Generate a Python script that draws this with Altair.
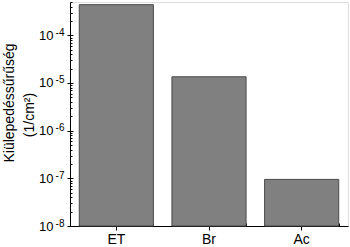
import altair as alt
import pandas as pd

categories = ["ET", "Br", "Ac"]
values = [4.4e-4, 1.35e-5, 9.5e-8]
major_ticks = [1e-8, 1e-7, 1e-6, 1e-5, 1e-4]
minor_ticks = [m * 10 ** e for e in range(-8, -3) for m in range(2, 10)] + [2e-4, 3e-4, 4e-4, 5e-4]
title_lines = ["Kiülepedéssűrűség", "(1/cm²)"]

df = pd.DataFrame({"cat": categories, "val": values})

W, H = 278, 224
FONT = "Liberation Sans"

yscale = alt.Scale(type="log", domain=[1e-8, 5e-4], nice=False)
xscale = alt.Scale(paddingInner=0.2, paddingOuter=0.1)

bars = alt.Chart(df).mark_bar(color="#808080", stroke="#4a4a4a", strokeWidth=1).encode(
    x=alt.X("cat:N", sort=categories, scale=xscale,
            axis=alt.Axis(orient="bottom", title=None, labelAngle=0, labelFont=FONT, labelFontSize=14,
                          labelColor="black", tickColor="black", domainColor="black",
                          tickSize=4, labelPadding=2)),
    y=alt.Y("val:Q", scale=yscale,
            axis=alt.Axis(orient="left", values=major_ticks, labelExpr="'10'", grid=False,
                          labelFont=FONT, labelFontSize=13, labelColor="black",
                          tickColor="black", domainColor="black", tickSize=3,
                          labelPadding=14,
                          title=title_lines[1],
                          titleFont=FONT, titleFontSize=14, titleFontWeight="normal",
                          titleColor="black", titleX=-37, titleY=112.5, titleAngle=270,
                          titleAlign="center", titleBaseline="alphabetic")),
    y2=alt.datum(1e-8),
)

exps = alt.Chart(pd.DataFrame({"v": major_ticks})).mark_tick(opacity=0).encode(
    y=alt.Y("v:Q", scale=yscale,
            axis=alt.Axis(orient="left", values=major_ticks,
                          labelExpr="'-' + round(-log(datum.value) / LN10)",
                          labelFont=FONT, labelFontSize=10, labelColor="black",
                          labelBaseline="alphabetic",
                          domain=False, grid=False, tickSize=0, labelPadding=6,
                          title=title_lines[0],
                          titleFont=FONT, titleFontSize=14, titleFontWeight="normal",
                          titleColor="black", titleX=-57, titleY=100.5, titleAngle=270,
                          titleAlign="center", titleBaseline="alphabetic")),
)

minor = alt.Chart(pd.DataFrame({"v": minor_ticks})).mark_tick(opacity=0).encode(
    y=alt.Y("v:Q", scale=yscale,
            axis=alt.Axis(orient="left", values=minor_ticks, labels=False, domain=False, grid=False,
                          title=None, tickSize=2, offset=-2, tickColor="black")),
)

major_in = alt.Chart(pd.DataFrame({"v": major_ticks})).mark_tick(opacity=0).encode(
    y=alt.Y("v:Q", scale=yscale,
            axis=alt.Axis(orient="left", values=major_ticks, labels=False, domain=False, grid=False,
                          title=None, tickSize=3, offset=-3, tickColor="black")),
)

xminor = alt.Chart(df).mark_tick(opacity=0).encode(
    x=alt.X("cat:N", sort=categories, scale=xscale,
            axis=alt.Axis(orient="bottom", labels=False, domain=False, title=None, tickBand="extent",
                          grid=False, tickSize=3, offset=-3, tickColor="black")),
)

chart = alt.layer(bars, exps, minor, major_in, xminor).resolve_axis(
    x="independent", y="independent"
).properties(
    width=W, height=H,
    autosize=alt.AutoSizeParams(type="none"),
    padding={"left": 70, "top": 2, "right": 2, "bottom": 21},
).configure_view(stroke=None).configure(background="white")

chart.save("out.html", embed_options={"renderer": "svg", "actions": False})
